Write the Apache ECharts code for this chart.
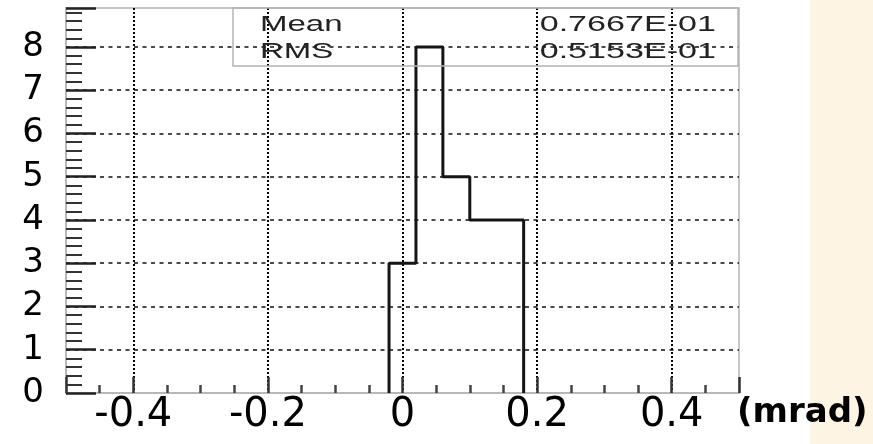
<!DOCTYPE html>
<html>
<head>
<meta charset="utf-8">
<script src="https://cdn.jsdelivr.net/npm/echarts@6/dist/echarts.min.js"></script>
<style>
  html, body { margin: 0; padding: 0; background: #fff; }
  #chart { width: 873px; height: 444px; }
</style>
</head>
<body>
<div id="chart"></div>
<script>
// histogram bins (mrad) and entries
const binEdges = [-0.02, 0.02, 0.06, 0.10, 0.14, 0.18]
const binCounts = [3, 8, 5, 4, 4]

// stats box
const statNames = ['Mean', 'RMS']
const statValues = ['0.7667E-01', '0.5153E-01']

const xRange = [-0.5, 0.5]
const yRange = [0, 8.9]

// outline of the histogram as a stepped polyline
const histLine = [[binEdges[0], 0]]
binCounts.forEach((c, i) => {
  histLine.push([binEdges[i], c], [binEdges[i + 1], c])
})
histLine.push([binEdges[binEdges.length - 1], 0])

const chart = echarts.init(document.getElementById('chart'))

const frameColor = '#b4b4b4'
const statRows = [25, 52]

const statText = []
statNames.forEach((name, i) => {
  statText.push({
    type: 'text', x: 260, y: statRows[i], scaleX: 1.5, z: 20,
    style: { text: name, fontFamily: 'Liberation Sans', fontSize: 22, fill: '#222', align: 'left', verticalAlign: 'middle' },
  })
  statText.push({
    type: 'text', x: 716, y: statRows[i], scaleX: 1.55, z: 20,
    style: { text: statValues[i], fontFamily: 'Liberation Sans', fontSize: 22, fill: '#222', align: 'right', verticalAlign: 'middle' },
  })
})

chart.setOption({
  backgroundColor: '#fff',
  animation: false,
  grid: {
    left: 66, right: 134, top: 8, bottom: 51,
    show: true, borderColor: frameColor, borderWidth: 1.5,
    outerBoundsMode: 'none',
  },
  xAxis: {
    type: 'value',
    min: xRange[0],
    max: xRange[1],
    splitNumber: 5,
    name: '(mrad)',
    nameLocation: 'end',
    nameGap: -2,
    nameTextStyle: {
      fontFamily: 'DejaVu Sans', fontWeight: 'bold', fontSize: 34, color: '#000',
      align: 'left', verticalAlign: 'top', padding: [3, 0, 0, 0],
    },
    axisLine: { onZero: false, lineStyle: { color: frameColor, width: 1.5 } },
    axisTick: { inside: true, length: 16, lineStyle: { color: '#333', width: 2.5 } },
    minorTick: { show: true, splitNumber: 4, length: 8, lineStyle: { color: '#444', width: 2.5 } },
    axisLabel: {
      fontFamily: 'DejaVu Sans', fontSize: 40, color: '#000', margin: 3,
      showMinLabel: false, showMaxLabel: false,
    },
    splitLine: {
      show: true, showMinLine: false, showMaxLine: false,
      lineStyle: { color: '#000', type: [2, 2], width: 2 },
    },
  },
  yAxis: {
    type: 'value',
    min: yRange[0],
    max: yRange[1],
    interval: 1,
    axisLine: { show: true, onZero: false, lineStyle: { color: frameColor, width: 1.5 } },
    axisTick: { show: true, inside: true, length: 30, lineStyle: { color: '#222', width: 2.5 } },
    minorTick: { show: true, splitNumber: 5, length: 16, lineStyle: { color: '#333', width: 2 } },
    axisLabel: {
      fontFamily: 'DejaVu Sans', fontSize: 34, color: '#000', margin: 22,
      showMaxLabel: false,
      formatter: (v) => (Number.isInteger(v) ? String(v) : ''),
    },
    splitLine: {
      show: true, showMinLine: false, showMaxLine: false,
      lineStyle: { color: '#111', type: [4, 4.5], width: 1.5 },
    },
  },
  graphic: [
    {
      type: 'rect', z: -10, silent: true,
      shape: { x: 810, y: 0, width: 63, height: 444 },
      style: { fill: '#fdf4e4' },
    },
    {
      type: 'rect', z: 20, silent: true,
      shape: { x: 233, y: 8, width: 505, height: 58 },
      style: { fill: 'none', stroke: frameColor, lineWidth: 1.5 },
    },
    ...statText,
  ],
  series: [
    {
      type: 'line',
      data: histLine,
      symbol: 'none',
      lineStyle: { color: '#151515', width: 3 },
      z: 5,
    },
  ],
})
</script>
</body>
</html>
